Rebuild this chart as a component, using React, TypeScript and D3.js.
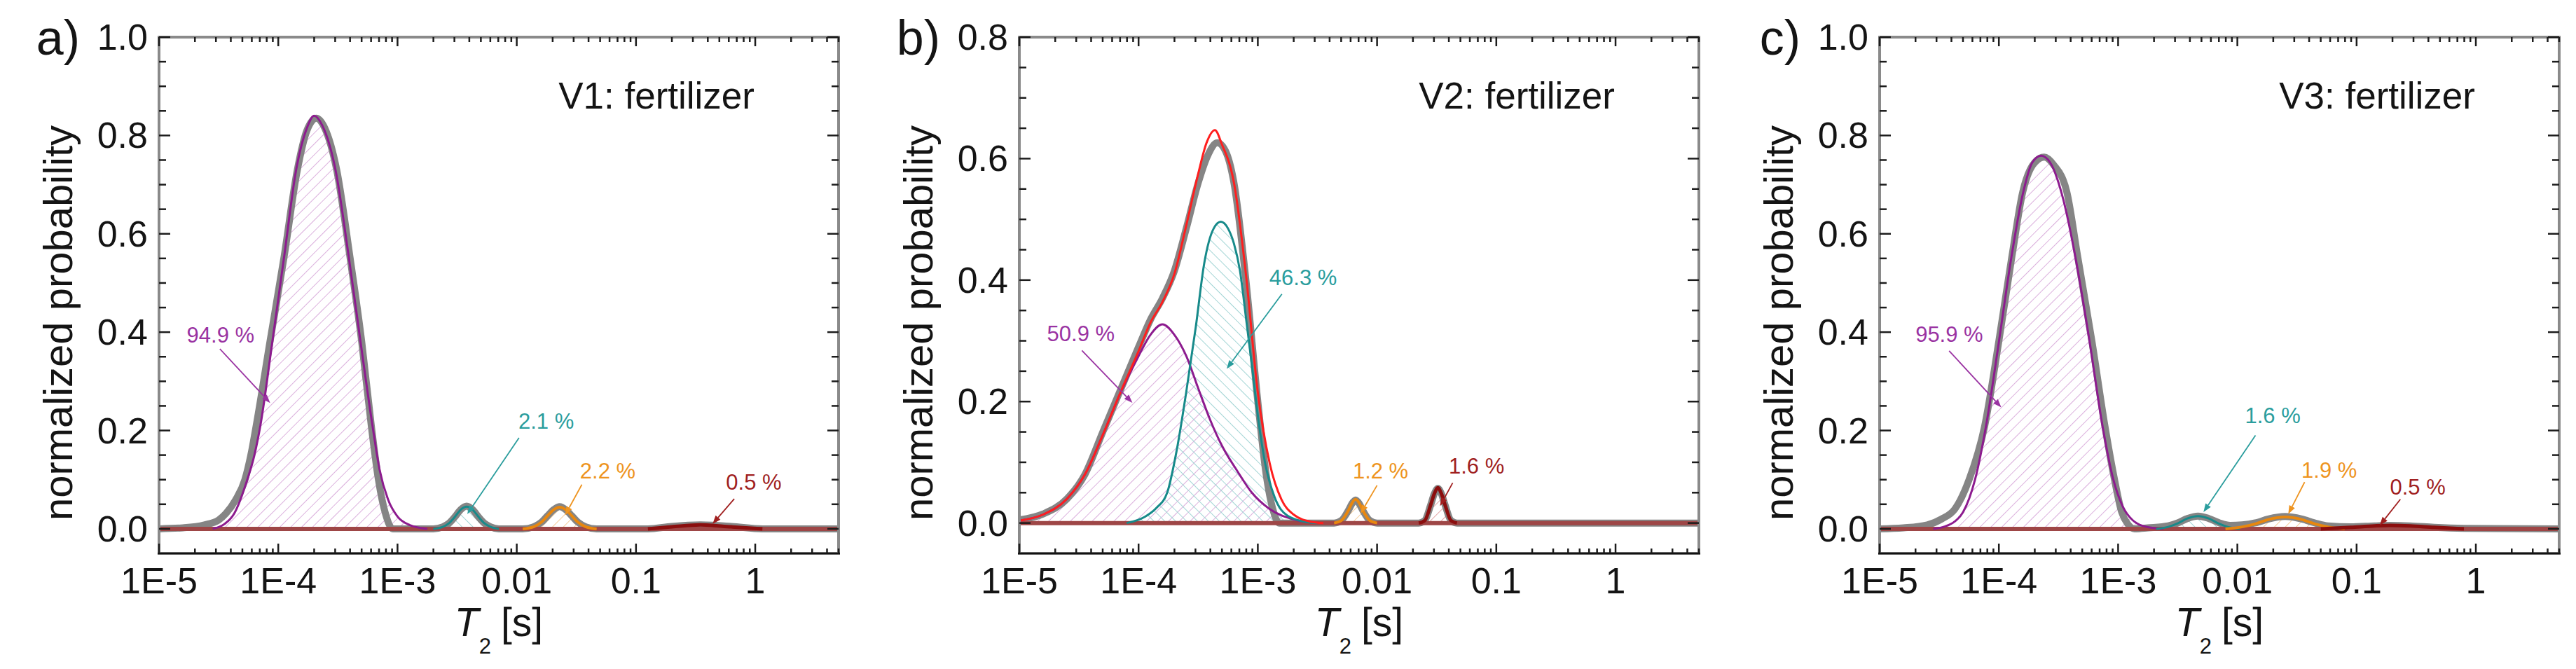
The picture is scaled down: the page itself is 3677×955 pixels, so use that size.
import * as d3 from 'd3'

type Pt = [number, number]

// all curve points: [log10(T2 / s), normalized probability]
const X_TICKS = [1e-5, 1e-4, 1e-3, 0.01, 0.1, 1]
const X_TICK_LABELS = ['1E-5', '1E-4', '1E-3', '0.01', '0.1', '1']
const X_MAX = 5
const Y_MIN = -0.05
const Y_TICKS_AC = [0, 0.2, 0.4, 0.6, 0.8, 1.0]
const Y_TICKS_B = [0, 0.2, 0.4, 0.6, 0.8]

const PANEL_TAGS = ['a)', 'b)', 'c)']
const SAMPLE_NAMES = ['V1: fertilizer', 'V2: fertilizer', 'V3: fertilizer']

// ---- panel a (V1) ----
const A_DATA: Pt[] = [
  [-5.0, 0.0], [-4.8, 0.002], [-4.62, 0.008], [-4.5, 0.018], [-4.44, 0.031], [-4.36, 0.058],
  [-4.28, 0.1], [-4.23, 0.15], [-4.185, 0.21], [-4.07, 0.38], [-3.95, 0.555], [-3.84, 0.73],
  [-3.76, 0.81], [-3.68, 0.835], [-3.61, 0.815], [-3.51, 0.73], [-3.4, 0.555], [-3.3, 0.38],
  [-3.22, 0.21], [-3.16, 0.1], [-3.1, 0.03], [-3.04, 0.0], [-2.7, 0.0], [-2.62, 0.004],
  [-2.57, 0.011], [-2.52, 0.024], [-2.47, 0.039], [-2.42, 0.046], [-2.37, 0.039], [-2.32, 0.024],
  [-2.27, 0.011], [-2.22, 0.004], [-2.15, 0.0], [-1.95, 0.0], [-1.86, 0.004], [-1.79, 0.014],
  [-1.74, 0.027], [-1.69, 0.039], [-1.64, 0.045], [-1.59, 0.039], [-1.54, 0.027], [-1.49, 0.014],
  [-1.42, 0.004], [-1.33, 0.0], [-0.9, 0.0], [-0.7, 0.005], [-0.46, 0.008], [-0.2, 0.005],
  [0.06, 0.0], [0.7, 0.0],
]
const A_FIT1: Pt[] = [
  [-4.55, 0.0], [-4.45, 0.01], [-4.37, 0.031], [-4.26, 0.1], [-4.2, 0.15], [-4.15, 0.21],
  [-4.05, 0.38], [-3.95, 0.555], [-3.85, 0.73], [-3.76, 0.815], [-3.7, 0.84], [-3.63, 0.82],
  [-3.52, 0.73], [-3.41, 0.555], [-3.31, 0.38], [-3.21, 0.21], [-3.15, 0.12], [-3.08, 0.06],
  [-3.0, 0.025], [-2.9, 0.008], [-2.75, 0.0],
]
const A_FIT2: Pt[] = [
  [-2.7, 0.0], [-2.62, 0.004], [-2.57, 0.011], [-2.52, 0.024], [-2.47, 0.039], [-2.42, 0.045],
  [-2.37, 0.039], [-2.32, 0.024], [-2.27, 0.011], [-2.22, 0.004], [-2.15, 0.0],
]
const A_FIT3: Pt[] = [
  [-1.95, 0.0], [-1.86, 0.004], [-1.79, 0.014], [-1.74, 0.027], [-1.69, 0.039], [-1.64, 0.044],
  [-1.59, 0.039], [-1.54, 0.027], [-1.49, 0.014], [-1.42, 0.004], [-1.33, 0.0],
]
const A_FIT4: Pt[] = [[-0.9, 0.0], [-0.7, 0.004], [-0.46, 0.008], [-0.2, 0.004], [0.06, 0.0]]
const A_PCT = ['94.9 %', '2.1 %', '2.2 %', '0.5 %']
const A_PCT_AT: Pt[] = [[-4.484, 0.379], [-1.753, 0.204], [-1.237, 0.103], [-0.012, 0.08]]
const A_ARROW_FROM: Pt[] = [[-4.49, 0.366], [-1.981, 0.185], [-1.454, 0.09], [-0.176, 0.061]]
const A_ARROW_TO: Pt[] = [[-4.068, 0.256], [-2.415, 0.03], [-1.594, 0.028], [-0.358, 0.01]]

// ---- panel b (V2) ----
const B_DATA: Pt[] = [
  [-5.0, 0.005], [-4.8, 0.015], [-4.6, 0.04], [-4.45, 0.08], [-4.3, 0.15], [-4.15, 0.22],
  [-4.0, 0.29], [-3.9, 0.335], [-3.8, 0.37], [-3.7, 0.415], [-3.6, 0.485], [-3.5, 0.56],
  [-3.42, 0.605], [-3.34, 0.626], [-3.27, 0.612], [-3.2, 0.56], [-3.1, 0.4], [-3.0, 0.2],
  [-2.93, 0.08], [-2.87, 0.02], [-2.82, 0.0], [-2.36, 0.0], [-2.3, 0.004], [-2.24, 0.021],
  [-2.21, 0.032], [-2.18, 0.038], [-2.15, 0.032], [-2.12, 0.021], [-2.06, 0.004], [-2.0, 0.0],
  [-1.65, 0.0], [-1.6, 0.004], [-1.55, 0.03], [-1.52, 0.048], [-1.49, 0.057], [-1.46, 0.048],
  [-1.43, 0.03], [-1.38, 0.004], [-1.33, 0.0], [0.7, 0.0],
]
const B_SUM: Pt[] = [
  [-5.0, 0.004], [-4.8, 0.014], [-4.6, 0.04], [-4.45, 0.08], [-4.3, 0.145], [-4.15, 0.216],
  [-4.0, 0.283], [-3.9, 0.33], [-3.8, 0.364], [-3.7, 0.41], [-3.6, 0.49], [-3.5, 0.575],
  [-3.43, 0.626], [-3.36, 0.647], [-3.3, 0.623], [-3.2, 0.56], [-3.1, 0.41], [-3.0, 0.215],
  [-2.9, 0.098], [-2.8, 0.038], [-2.7, 0.014], [-2.55, 0.002], [-2.45, 0.0],
]
const B_FIT1: Pt[] = [
  [-5.0, 0.004], [-4.8, 0.014], [-4.6, 0.04], [-4.45, 0.08], [-4.3, 0.145], [-4.15, 0.215],
  [-4.0, 0.275], [-3.9, 0.31], [-3.8, 0.327], [-3.7, 0.31], [-3.6, 0.275], [-3.5, 0.222],
  [-3.4, 0.17], [-3.3, 0.127], [-3.17, 0.085], [-3.05, 0.05], [-2.9, 0.023], [-2.7, 0.006],
  [-2.5, 0.0],
]
const B_FIT2: Pt[] = [
  [-4.1, 0.0], [-3.95, 0.01], [-3.85, 0.025], [-3.76, 0.05], [-3.68, 0.12], [-3.6, 0.216],
  [-3.52, 0.323], [-3.45, 0.427], [-3.37, 0.485], [-3.31, 0.496], [-3.25, 0.485], [-3.2, 0.46],
  [-3.15, 0.416], [-3.095, 0.331], [-3.046, 0.254], [-3.0, 0.177], [-2.94, 0.1], [-2.86, 0.043],
  [-2.75, 0.012], [-2.6, 0.002], [-2.5, 0.0],
]
const B_FIT3: Pt[] = [
  [-2.36, 0.0], [-2.3, 0.004], [-2.24, 0.021], [-2.21, 0.033], [-2.18, 0.039], [-2.15, 0.033],
  [-2.12, 0.021], [-2.06, 0.004], [-2.0, 0.0],
]
const B_FIT4: Pt[] = [
  [-1.65, 0.0], [-1.6, 0.004], [-1.55, 0.03], [-1.52, 0.048], [-1.49, 0.058], [-1.46, 0.048],
  [-1.43, 0.03], [-1.38, 0.004], [-1.33, 0.0],
]
const B_PCT = ['50.9 %', '46.3 %', '1.2 %', '1.6 %']
const B_PCT_AT: Pt[] = [[-4.484, 0.3], [-2.62, 0.392], [-1.971, 0.073], [-1.166, 0.081]]
const B_ARROW_FROM: Pt[] = [[-4.475, 0.284], [-2.798, 0.377], [-2.0, 0.062], [-1.366, 0.066]]
const B_ARROW_TO: Pt[] = [[-4.052, 0.198], [-3.261, 0.254], [-2.138, 0.016], [-1.472, 0.028]]

// ---- panel c (V3) ----
const C_DATA: Pt[] = [
  [-5.0, 0.0], [-4.8, 0.002], [-4.6, 0.008], [-4.48, 0.02], [-4.37, 0.04], [-4.25, 0.1],
  [-4.12, 0.208], [-4.0, 0.382], [-3.89, 0.555], [-3.8, 0.685], [-3.7, 0.745], [-3.62, 0.756],
  [-3.54, 0.74], [-3.43, 0.685], [-3.34, 0.555], [-3.22, 0.382], [-3.11, 0.208], [-3.03, 0.1],
  [-2.97, 0.034], [-2.92, 0.01], [-2.86, 0.0], [-2.75, 0.002], [-2.58, 0.006], [-2.5, 0.012],
  [-2.42, 0.021], [-2.33, 0.026], [-2.24, 0.021], [-2.15, 0.012], [-2.06, 0.007], [-1.96, 0.008],
  [-1.85, 0.012], [-1.74, 0.02], [-1.6, 0.025], [-1.46, 0.02], [-1.35, 0.012], [-1.24, 0.006],
  [-1.05, 0.004], [-0.85, 0.006], [-0.72, 0.007], [-0.55, 0.006], [-0.35, 0.003], [-0.1, 0.001],
  [0.7, 0.0],
]
const C_FIT1: Pt[] = [
  [-4.55, 0.0], [-4.45, 0.005], [-4.37, 0.015], [-4.3, 0.034], [-4.2, 0.1], [-4.1, 0.22],
  [-4.0, 0.38], [-3.9, 0.545], [-3.8, 0.68], [-3.72, 0.745], [-3.646, 0.759], [-3.57, 0.745],
  [-3.46, 0.67], [-3.36, 0.555], [-3.24, 0.382], [-3.13, 0.208], [-3.04, 0.1], [-2.96, 0.045],
  [-2.88, 0.018], [-2.76, 0.004], [-2.62, 0.0],
]
const C_FIT2: Pt[] = [
  [-2.68, 0.0], [-2.58, 0.004], [-2.5, 0.011], [-2.42, 0.021], [-2.33, 0.026], [-2.24, 0.021],
  [-2.16, 0.011], [-2.08, 0.004], [-1.98, 0.0],
]
const C_FIT3: Pt[] = [
  [-2.1, 0.0], [-1.96, 0.004], [-1.85, 0.01], [-1.74, 0.019], [-1.6, 0.024], [-1.46, 0.019],
  [-1.35, 0.01], [-1.24, 0.004], [-1.1, 0.0],
]
const C_FIT4: Pt[] = [
  [-1.3, 0.0], [-1.05, 0.003], [-0.85, 0.006], [-0.72, 0.007], [-0.55, 0.006], [-0.35, 0.003],
  [-0.1, 0.0],
]
const C_PCT = ['95.9 %', '1.6 %', '1.9 %', '0.5 %']
const C_PCT_AT: Pt[] = [[-4.416, 0.38], [-1.703, 0.215], [-1.23, 0.104], [-0.487, 0.069]]
const C_ARROW_FROM: Pt[] = [[-4.417, 0.362], [-1.848, 0.19], [-1.436, 0.095], [-0.633, 0.06]]
const C_ARROW_TO: Pt[] = [[-3.98, 0.247], [-2.284, 0.034], [-1.573, 0.03], [-0.806, 0.007]]

// styles
const FONT = "'Liberation Sans', Arial, Helvetica, sans-serif"
const FIT_COLORS = ['#8d1b8f', '#178a8a', '#e8870e', '#8b0e0e']
const TEXT_COLORS = ['#9a33a2', '#2a9d9d', '#ee9420', '#a01f1f']
const HATCH_COLORS = ['#dbb0dd', '#a3d5d5', '#f5cc98', '#e3a6a6']
const HATCH_ANGLE = [45, -45, 45, 45]
const FIT_WIDTH = [3, 3, 4, 5]
const DATA_COLOR = '#858585'
const SUM_COLOR = '#ff1e1e'
const BASELINE_COLOR = '#9e4646'

const PLOT_LEFTS = [227, 1455, 2683]
const PLOT_W = 970
const TOP = 53
const BOTTOM = 790

interface PanelCfg {
  yMax: number
  yTicks: number[]
  data: Pt[]
  fits: Pt[][]
  sum?: Pt[]
  pct: string[]
  pctAt: Pt[]
  from: Pt[]
  to: Pt[]
}

const PANELS: PanelCfg[] = [
  { yMax: 1.0, yTicks: Y_TICKS_AC, data: A_DATA, fits: [A_FIT1, A_FIT2, A_FIT3, A_FIT4], pct: A_PCT, pctAt: A_PCT_AT, from: A_ARROW_FROM, to: A_ARROW_TO },
  { yMax: 0.8, yTicks: Y_TICKS_B, data: B_DATA, fits: [B_FIT1, B_FIT2, B_FIT3, B_FIT4], sum: B_SUM, pct: B_PCT, pctAt: B_PCT_AT, from: B_ARROW_FROM, to: B_ARROW_TO },
  { yMax: 1.0, yTicks: Y_TICKS_AC, data: C_DATA, fits: [C_FIT1, C_FIT2, C_FIT3, C_FIT4], pct: C_PCT, pctAt: C_PCT_AT, from: C_ARROW_FROM, to: C_ARROW_TO },
]

function Panel({ p, idx }: { p: PanelCfg; idx: number }) {
  const left = PLOT_LEFTS[idx]
  const right = left + PLOT_W
  const x = d3.scaleLog().domain([1e-5, X_MAX]).range([left, right])
  const y = d3.scaleLinear().domain([Y_MIN, p.yMax]).range([BOTTOM, TOP])
  const fx = (d: Pt) => x(Math.pow(10, d[0]))
  const fy = (d: Pt) => y(d[1])

  const line = d3.line<Pt>().x(fx).y(fy).curve(d3.curveMonotoneX)
  const area = d3.area<Pt>().x(fx).y0(y(0)).y1(fy).curve(d3.curveMonotoneX)

  const minorX = d3
    .range(-5, 1)
    .flatMap((e) => d3.range(2, 10).map((k) => k * Math.pow(10, e)))
    .filter((v) => v <= X_MAX)
  const minorY = d3
    .range(0, p.yMax + 1e-9, 0.05)
    .filter((v) => Math.round(v * 100) % 20 !== 0)

  const fmt = d3.format('.1f')
  const tickStyle = { stroke: '#1c1c1c', strokeWidth: 2.5 }

  return (
    <g>
      {/* hatched component areas */}
      {p.fits.map((f, i) => (
        <path key={'h' + i} d={area(f) || ''} fill={`url(#hatch${i})`} stroke="none" />
      ))}

      {/* measured distribution */}
      <path d={line(p.data) || ''} fill="none" stroke={DATA_COLOR} strokeWidth={10} strokeLinejoin="round" />

      {/* zero baseline */}
      <line x1={left} x2={right} y1={y(0)} y2={y(0)} stroke={BASELINE_COLOR} strokeWidth={6} />

      {/* fitted components */}
      {p.fits.map((f, i) => (
        <path key={'f' + i} d={line(f) || ''} fill="none" stroke={FIT_COLORS[i]} strokeWidth={FIT_WIDTH[i]} />
      ))}
      {p.sum && <path d={line(p.sum) || ''} fill="none" stroke={SUM_COLOR} strokeWidth={3} />}

      {/* frame */}
      <rect x={left} y={TOP} width={PLOT_W} height={BOTTOM - TOP} fill="none" stroke="#8a8a8a" strokeWidth={4} />
      <line x1={left - 2} x2={right + 2} y1={BOTTOM} y2={BOTTOM} stroke="#111" strokeWidth={2.5} />

      {/* x ticks, bottom and top */}
      {X_TICKS.map((t) => (
        <g key={'xt' + t}>
          <line x1={x(t)} x2={x(t)} y1={BOTTOM} y2={BOTTOM - 14} {...tickStyle} />
          <line x1={x(t)} x2={x(t)} y1={TOP} y2={TOP + 13} {...tickStyle} />
        </g>
      ))}
      {minorX.map((t) => (
        <g key={'xm' + t}>
          <line x1={x(t)} x2={x(t)} y1={BOTTOM} y2={BOTTOM - 7} {...tickStyle} />
          <line x1={x(t)} x2={x(t)} y1={TOP} y2={TOP + 7} {...tickStyle} />
        </g>
      ))}
      {X_TICKS.map((t, i) => (
        <text key={'xl' + t} x={x(t)} y={847} textAnchor="middle" fontSize={52} fill="#141414">
          {X_TICK_LABELS[i]}
        </text>
      ))}

      {/* y ticks, left and right */}
      {p.yTicks.map((t) => (
        <g key={'yt' + t}>
          <line x1={left} x2={left + 16} y1={y(t)} y2={y(t)} {...tickStyle} />
          <line x1={right} x2={right - 16} y1={y(t)} y2={y(t)} {...tickStyle} />
          <text x={left - 16} y={y(t)} textAnchor="end" dominantBaseline="central" fontSize={52} fill="#141414">
            {fmt(t)}
          </text>
        </g>
      ))}
      {minorY.map((t) => (
        <g key={'ym' + t}>
          <line x1={left} x2={left + 10} y1={y(t)} y2={y(t)} {...tickStyle} />
          <line x1={right} x2={right - 10} y1={y(t)} y2={y(t)} {...tickStyle} />
        </g>
      ))}

      {/* axis titles */}
      <text
        transform={`translate(${left - 124},461) rotate(-90)`}
        textAnchor="middle"
        fontSize={58}
        fill="#141414"
      >
        normalized probability
      </text>
      <text x={(left + right) / 2} y={908} textAnchor="middle" fontSize={57} fill="#141414">
        <tspan fontStyle="italic">T</tspan>
        <tspan fontSize={31} dy={25}>2</tspan>
        <tspan dy={-25} dx={14}>[s]</tspan>
      </text>

      <text x={left - 113} y={78} textAnchor="end" fontSize={70} fill="#141414">
        {PANEL_TAGS[idx]}
      </text>
      <text x={right - 120} y={155} textAnchor="end" fontSize={53} fill="#141414">
        {SAMPLE_NAMES[idx]}
      </text>

      {/* percentage labels with arrows */}
      {p.pct.map((s, i) => {
        const x1 = fx(p.from[i])
        const y1 = fy(p.from[i])
        const x2 = fx(p.to[i])
        const y2 = fy(p.to[i])
        const a = Math.atan2(y2 - y1, x2 - x1)
        const L = 12
        const W = 4.5
        const bx = x2 - L * Math.cos(a)
        const by = y2 - L * Math.sin(a)
        const head = [
          [x2, y2],
          [bx - W * Math.sin(a), by + W * Math.cos(a)],
          [bx + W * Math.sin(a), by - W * Math.cos(a)],
        ]
          .map((q) => q.join(','))
          .join(' ')
        return (
          <g key={'pct' + i}>
            <text x={fx(p.pctAt[i])} y={fy(p.pctAt[i])} textAnchor="middle" fontSize={31} fill={TEXT_COLORS[i]}>
              {s}
            </text>
            <line x1={x1} y1={y1} x2={bx} y2={by} stroke={TEXT_COLORS[i]} strokeWidth={1.8} />
            <polygon points={head} fill={TEXT_COLORS[i]} />
          </g>
        )
      })}
    </g>
  )
}

export default function App() {
  return (
    <svg
      width={3677}
      height={955}
      style={{ position: 'absolute', left: 0, top: 0, background: '#fff' }}
      fontFamily={FONT}
    >
      <defs>
        {HATCH_COLORS.map((c, i) => (
          <pattern
            key={i}
            id={`hatch${i}`}
            width={11}
            height={11}
            patternUnits="userSpaceOnUse"
            patternTransform={`rotate(${HATCH_ANGLE[i]})`}
          >
            <line x1={0} y1={0} x2={0} y2={11} stroke={c} strokeWidth={2} />
          </pattern>
        ))}
      </defs>
      <rect width={3677} height={955} fill="#fff" />
      {PANELS.map((p, i) => (
        <Panel key={i} p={p} idx={i} />
      ))}
    </svg>
  )
}
